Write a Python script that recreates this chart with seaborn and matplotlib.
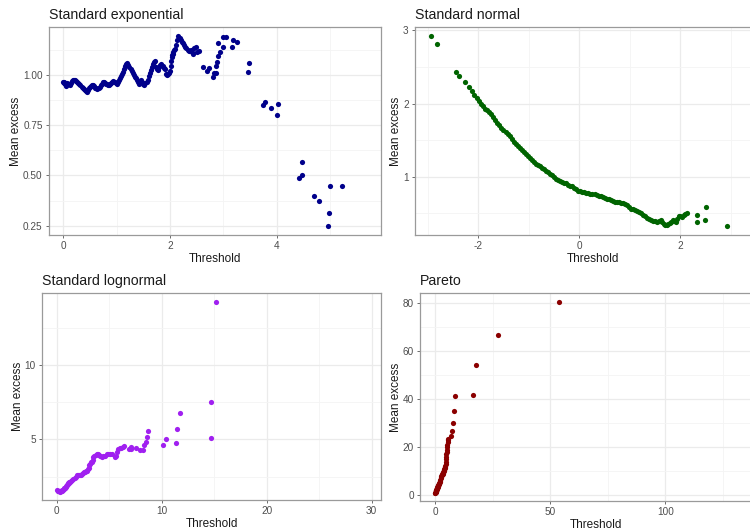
import numpy as np
import pandas as pd
import matplotlib
matplotlib.use("Agg")
import matplotlib.pyplot as plt
from matplotlib.ticker import FixedLocator, FixedFormatter
import seaborn as sns

# ---------------- data ----------------
exp_threshold = [0.00, 0.01, 0.02, 0.03, 0.04, 0.05, 0.06, 0.07, 0.08, 0.10, 0.12, 0.14, 0.16, 0.18,
                 0.20, 0.22, 0.24, 0.26, 0.28, 0.30, 0.32, 0.34, 0.36, 0.38, 0.40, 0.42, 0.44, 0.46,
                 0.48, 0.50, 0.52, 0.54, 0.56, 0.58, 0.60, 0.62, 0.64, 0.66, 0.68, 0.70, 0.72, 0.74,
                 0.76, 0.78, 0.80, 0.82, 0.84, 0.86, 0.88, 0.90, 0.92, 0.94, 0.96, 0.98, 1.00, 1.02,
                 1.04, 1.06, 1.08, 1.10, 1.12, 1.14, 1.16, 1.18, 1.20, 1.22, 1.24, 1.26, 1.28, 1.30,
                 1.32, 1.34, 1.36, 1.38, 1.40, 1.42, 1.44, 1.46, 1.48, 1.50, 1.52, 1.54, 1.56, 1.58,
                 1.60, 1.62, 1.64, 1.66, 1.68, 1.70, 1.72, 1.74, 1.76, 1.78, 1.80, 1.82, 1.84, 1.86,
                 1.88, 1.90, 1.92, 1.94, 1.96, 1.98, 2.00, 2.01, 2.02, 2.03, 2.04, 2.05, 2.06, 2.08,
                 2.10, 2.12, 2.14, 2.16, 2.18, 2.20, 2.22, 2.24, 2.26, 2.28, 2.30, 2.33, 2.36, 2.39,
                 2.42, 2.44, 2.46, 2.48, 2.50, 2.54,
                 2.625, 2.69, 2.74, 2.80, 2.83, 2.86, 2.86, 2.89, 2.91, 2.91, 2.94, 2.99, 3.00, 3.06,
                 3.16, 3.19, 3.26, 3.47, 3.49, 3.75, 3.79, 3.89, 4.00, 4.02, 4.43, 4.47, 4.48, 4.70,
                 4.79, 4.97, 4.99, 5.00, 5.22]
exp_mean_excess = [0.968, 0.962, 0.965, 0.958, 0.950, 0.945, 0.955, 0.962, 0.958, 0.955, 0.952, 0.962,
                   0.970, 0.975, 0.978, 0.977, 0.972, 0.968, 0.962, 0.955, 0.950, 0.943, 0.938, 0.932,
                   0.925, 0.920, 0.918, 0.928, 0.935, 0.942, 0.948, 0.950, 0.952, 0.945, 0.938, 0.935,
                   0.932, 0.935, 0.942, 0.950, 0.958, 0.965, 0.968, 0.962, 0.958, 0.955, 0.952, 0.950,
                   0.955, 0.962, 0.968, 0.970, 0.965, 0.960, 0.958, 0.965, 0.975, 0.985, 0.995, 1.005,
                   1.015, 1.030, 1.045, 1.055, 1.060, 1.052, 1.040, 1.030, 1.020, 1.010, 1.000, 0.992,
                   0.985, 0.975, 0.965, 0.955, 0.965, 0.978, 0.965, 0.955, 0.952, 0.960, 0.968, 0.978,
                   0.995, 1.010, 1.025, 1.040, 1.055, 1.065, 1.070, 1.040, 1.030, 1.028, 1.040, 1.050,
                   1.055, 1.045, 1.035, 1.030, 1.005, 1.000, 1.005, 1.010, 1.020, 1.045, 1.070, 1.090,
                   1.100, 1.105, 1.115, 1.125, 1.130, 1.150, 1.175, 1.195, 1.185, 1.175, 1.168, 1.160,
                   1.150, 1.142, 1.135, 1.125, 1.120, 1.125, 1.115, 1.105, 1.135, 1.140, 1.118, 1.120,
                   1.043, 1.023, 1.035, 0.990, 1.013, 1.010, 1.048, 1.068, 1.097, 1.163, 1.118, 1.193,
                   1.143, 1.193, 1.140, 1.176, 1.168, 1.017, 1.063, 0.850, 0.868, 0.835, 0.800, 0.856,
                   0.489, 0.500, 0.566, 0.398, 0.374, 0.250, 0.311, 0.449, 0.449]

norm_threshold = [-2.93, -2.81, -2.44, -2.37, -2.27, -2.19, -2.13, -2.08,
                  -2.03, -1.98, -1.94, -1.90, -1.86, -1.82, -1.78, -1.74, -1.70, -1.66, -1.62, -1.58,
                  -1.54, -1.50, -1.46, -1.42, -1.38, -1.34, -1.30, -1.26, -1.22, -1.18, -1.14, -1.10,
                  -1.06, -1.02, -0.98, -0.94, -0.90, -0.86, -0.82, -0.78, -0.74, -0.70, -0.66, -0.62,
                  -0.58, -0.54, -0.50, -0.46, -0.42, -0.38, -0.34, -0.30, -0.26, -0.22, -0.18, -0.14,
                  -0.10, -0.06, -0.02, 0.02, 0.06, 0.10, 0.14, 0.18, 0.22, 0.26, 0.30, 0.34, 0.38,
                  0.42, 0.46, 0.50, 0.54, 0.58, 0.62, 0.66, 0.70, 0.74, 0.78, 0.82, 0.86, 0.90, 0.94,
                  0.98, 1.02, 1.06, 1.10, 1.14, 1.18, 1.22, 1.26, 1.30, 1.34, 1.38, 1.42, 1.46, 1.50,
                  1.54, 1.58, 1.61, 1.64, 1.67, 1.70, 1.73, 1.76, 1.79, 1.82, 1.85, 1.88, 1.91, 1.94,
                  1.97, 2.00, 2.03, 2.06, 2.09, 2.12,
                  2.32, 2.32, 2.48, 2.50, 2.925]
norm_mean_excess = [2.92, 2.81, 2.43, 2.38, 2.29, 2.22, 2.17, 2.12,
                    2.08, 2.04, 2.00, 1.96, 1.93, 1.91, 1.88, 1.85, 1.81, 1.77, 1.73, 1.70,
                    1.66, 1.64, 1.61, 1.58, 1.55, 1.51, 1.48, 1.45, 1.42, 1.39, 1.37, 1.34,
                    1.31, 1.28, 1.26, 1.23, 1.20, 1.18, 1.16, 1.14, 1.12, 1.10, 1.08, 1.06,
                    1.04, 1.02, 0.99, 0.97, 0.95, 0.94, 0.93, 0.92, 0.91, 0.89, 0.88, 0.87,
                    0.85, 0.83, 0.81, 0.80, 0.79, 0.785, 0.78, 0.775, 0.77, 0.765, 0.76, 0.75, 0.74,
                    0.73, 0.72, 0.705, 0.70, 0.69, 0.685, 0.67, 0.66, 0.655, 0.65, 0.645, 0.64, 0.63, 0.61,
                    0.58, 0.565, 0.555, 0.545, 0.53, 0.52, 0.50, 0.48, 0.46, 0.44, 0.425, 0.41, 0.40, 0.39,
                    0.385, 0.40, 0.41, 0.38, 0.35, 0.34, 0.345, 0.355, 0.37, 0.385, 0.41, 0.39, 0.38, 0.42,
                    0.47, 0.46, 0.455, 0.48, 0.49, 0.51,
                    0.476, 0.385, 0.41, 0.58, 0.326]

lnorm_threshold = [0.05, 0.10, 0.15, 0.20, 0.25, 0.30, 0.35, 0.40, 0.45, 0.50, 0.55, 0.60, 0.65, 0.70,
                   0.75, 0.80, 0.85, 0.90, 0.95, 1.00, 1.05, 1.10, 1.15, 1.20, 1.30, 1.40, 1.50, 1.60,
                   1.70, 1.80, 1.90, 2.00, 2.10, 2.20, 2.30, 2.40, 2.50, 2.60, 2.70, 2.80, 2.90, 3.00,
                   3.05, 3.10, 3.15, 3.25, 3.35, 3.45, 3.50, 3.60, 3.70, 3.80, 3.90, 4.00, 4.15, 4.30,
                   4.45, 4.60, 4.75, 4.90, 5.10, 5.30, 5.55, 5.65, 5.75, 5.85, 6.00, 6.15, 6.30, 6.45,
                   6.85, 7.05, 7.10, 7.60, 7.95, 8.25, 8.32, 8.51, 8.62, 8.73, 10.16, 10.44, 11.37,
                   11.43, 11.75, 14.67, 14.73, 15.17]
lnorm_mean_excess = [1.60, 1.55, 1.52, 1.50, 1.50, 1.48, 1.50, 1.52, 1.50, 1.55, 1.58, 1.60, 1.65, 1.70,
                     1.72, 1.75, 1.80, 1.85, 1.90, 1.95, 2.00, 2.05, 2.08, 2.10, 2.15, 2.20, 2.25, 2.30,
                     2.40, 2.50, 2.60, 2.62, 2.60, 2.58, 2.62, 2.70, 2.75, 2.80, 2.82, 2.85, 2.90, 3.00,
                     3.10, 3.25, 3.35, 3.45, 3.50, 3.60, 3.80, 3.90, 3.95, 4.02, 4.00, 3.95, 3.85, 3.82,
                     3.85, 3.90, 3.98, 4.02, 4.00, 3.98, 3.80, 3.85, 4.15, 4.38, 4.40, 4.42, 4.48, 4.52,
                     4.35, 4.35, 4.50, 4.40, 4.30, 4.30, 4.62, 4.84, 5.18, 5.58, 4.62, 5.02, 4.78,
                     5.70, 6.75, 5.07, 7.53, 14.26]

pareto_threshold = [0.00, 0.05, 0.10, 0.15, 0.20, 0.25, 0.30, 0.35, 0.40, 0.50, 0.60, 0.70, 0.80, 0.90,
                    1.00, 1.10, 1.20, 1.35, 1.50, 1.65, 1.80, 1.95, 2.10, 2.25, 2.40, 2.55, 2.70, 2.85,
                    3.00, 3.15, 3.30, 3.45, 3.60, 3.75, 3.90, 4.05, 4.20, 4.35, 4.45, 4.55, 4.62, 4.70,
                    4.78, 4.88, 4.98, 5.08, 5.20, 5.32, 5.45, 5.65,
                    6.7, 7.25, 7.8, 7.97, 8.4, 16.5, 17.5, 27.1, 53.6]
pareto_mean_excess = [1.0, 1.1, 1.3, 1.5, 1.6, 1.8, 1.9, 2.0, 2.1, 2.3, 2.5, 2.8, 3.0, 3.3,
                      3.5, 3.8, 4.0, 4.3, 4.5, 4.8, 5.2, 5.6, 6.0, 6.5, 7.0, 7.5, 8.0, 8.3,
                      8.7, 9.0, 9.4, 9.8, 10.2, 10.5, 10.9, 11.2, 11.6, 12.3, 13.0, 14.0, 15.0, 16.0,
                      17.0, 18.0, 19.0, 20.0, 21.0, 22.0, 23.0, 23.5,
                      24.6, 26.8, 30.2, 35.0, 41.5, 41.6, 54.2, 66.7, 80.7]

titles = ["Standard exponential", "Standard normal", "Standard lognormal", "Pareto"]
colors = ["#00008B", "#006400", "#A020F0", "#8B0000"]

# ---------------- styling ----------------
sns.set_theme(style="white")
plt.rcParams["font.family"] = ["Liberation Sans", "DejaVu Sans"]

W, H = 750, 531
fig = plt.figure(figsize=(W / 100, H / 100), dpi=100)

def make_ax(l, r, t, b):
    return fig.add_axes([l / W, 1 - b / H, (r - l) / W, (b - t) / H])

panels = [
    dict(box=(49, 381, 27, 235), x=exp_threshold, y=exp_mean_excess,
         xlim=(-0.27, 5.96), ylim=(0.203, 1.241),
         xmaj=[0, 2, 4], xlab=["0", "2", "4"], xmin=[1, 3, 5],
         ymaj=[0.25, 0.5, 0.75, 1.0], ylab=["0.25", "0.50", "0.75", "1.00"],
         ymin=[0.375, 0.625, 0.875, 1.125]),
    dict(box=(415, 771, 27, 235), x=norm_threshold, y=norm_mean_excess,
         xlim=(-3.25, 3.79), ylim=(0.204, 3.045),
         xmaj=[-2, 0, 2], xlab=["-2", "0", "2"], xmin=[-3, -1, 1, 3],
         ymaj=[1, 2, 3], ylab=["1", "2", "3"], ymin=[0.5, 1.5, 2.5]),
    dict(box=(42, 381, 293, 500), x=lnorm_threshold, y=lnorm_mean_excess,
         xlim=(-1.4, 30.9), ylim=(0.92, 14.84),
         xmaj=[0, 10, 20, 30], xlab=["0", "10", "20", "30"], xmin=[5, 15, 25],
         ymaj=[5, 10], ylab=["5", "10"], ymin=[2.5, 7.5, 12.5]),
    dict(box=(420, 771, 293, 501), x=pareto_threshold, y=pareto_mean_excess,
         xlim=(-6.65, 146), ylim=(-2.39, 84.3),
         xmaj=[0, 50, 100], xlab=["0", "50", "100"], xmin=[25, 75, 125],
         ymaj=[0, 20, 40, 60, 80], ylab=["0", "20", "40", "60", "80"],
         ymin=[10, 30, 50, 70]),
]

for p, title, col in zip(panels, titles, colors):
    ax = make_ax(*p["box"])
    df = pd.DataFrame({"Threshold": p["x"], "Mean excess": p["y"]})
    ax.set_axisbelow(True)
    sns.scatterplot(data=df, x="Threshold", y="Mean excess", ax=ax, color=col,
                    s=14, linewidth=0, zorder=3)
    ax.set_xlim(*p["xlim"])
    ax.set_ylim(*p["ylim"])
    ax.xaxis.set_major_locator(FixedLocator(p["xmaj"]))
    ax.xaxis.set_major_formatter(FixedFormatter(p["xlab"]))
    ax.yaxis.set_major_locator(FixedLocator(p["ymaj"]))
    ax.yaxis.set_major_formatter(FixedFormatter(p["ylab"]))
    ax.xaxis.set_minor_locator(FixedLocator(p["xmin"]))
    ax.yaxis.set_minor_locator(FixedLocator(p["ymin"]))
    ax.grid(which="major", color="#EBEBEB", linewidth=0.9)
    ax.grid(which="minor", color="#F4F4F4", linewidth=0.6)
    ax.tick_params(which="major", length=2.5, width=0.6, color="#555555",
                   labelsize=7.2, labelcolor="#4D4D4D", pad=2,
                   bottom=True, left=True)
    ax.tick_params(which="minor", length=0)
    for s in ax.spines.values():
        s.set_color("#9a9a9a")
        s.set_linewidth(0.9)
    ax.set_xlabel("Threshold", fontsize=8.5, color="#1a1a1a", labelpad=1.5)
    ax.set_ylabel("Mean excess", fontsize=8.5, color="#1a1a1a", labelpad=0.5)
    ax.set_title(title, loc="left", fontsize=10.2, color="#1a1a1a", pad=6)

fig.savefig("out.png", dpi=100)
